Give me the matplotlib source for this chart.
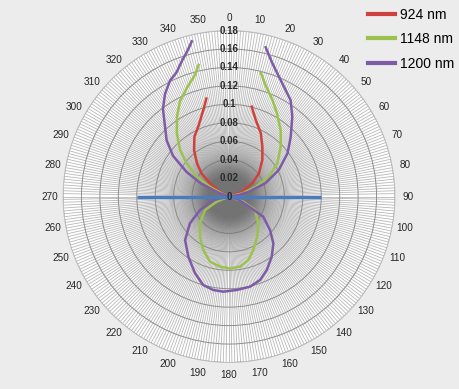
import numpy as np
import matplotlib
matplotlib.use("Agg")
import matplotlib.pyplot as plt
from matplotlib.colors import LinearSegmentedColormap

# angles in degrees (clockwise from north), radius in arbitrary units
r924_left_ang = [290, 298, 305, 310, 316, 323, 330, 337, 343.5, 347]
r924_left_val = [0, 0.011, 0.025, 0.039, 0.050, 0.063, 0.075, 0.084, 0.098, 0.109]
r924_right_ang = [14.2, 19.2, 26.6, 33.8, 42.4, 52.3, 60.5, 70, 80]
r924_right_val = [0.1005, 0.088, 0.077, 0.065, 0.0536, 0.041, 0.029, 0.015, 0]

r1148_left_ang = [286, 294, 297, 301.5, 308, 313.5, 320.5, 327, 332.7, 338.6, 344.4, 347]
r1148_left_val = [0, 0.009, 0.023, 0.041, 0.058, 0.073, 0.089, 0.1035, 0.116, 0.126, 0.137, 0.1465]
r1148_right_ang = [14.4, 18.2, 24.2, 30, 38, 46, 55.5, 63.7, 70, 76.5, 84]
r1148_right_val = [0.1386, 0.127, 0.115, 0.104, 0.091, 0.078, 0.0636, 0.048, 0.031, 0.015, 0]
r1148_low_ang = [100, 110, 117.4, 132.4, 144.9, 155.6, 163.1, 171.1, 179.2, 187.3,
                 196.2, 205.7, 215.8, 227.3, 240.6, 247, 258]
r1148_low_val = [0, 0.0165, 0.0318, 0.043, 0.0533, 0.0637, 0.072, 0.077, 0.078, 0.0767,
                 0.0736, 0.0644, 0.0537, 0.0428, 0.0299, 0.0145, 0]

r1200_left_ang = [282, 290, 295, 300, 306, 312, 318, 323, 328, 333, 337, 341, 344, 346.5]
r1200_left_val = [0, 0.012, 0.034, 0.053, 0.075, 0.091, 0.104, 0.119, 0.131, 0.141,
                  0.146, 0.156, 0.164, 0.173]
r1200_right_ang = [13.8, 18, 25, 32.6, 38.4, 46, 53.5, 62, 70, 76.5, 81, 86]
r1200_right_val = [0.1666, 0.152, 0.136, 0.124, 0.1105, 0.093, 0.079, 0.061, 0.042,
                   0.022, 0.011, 0]
r1200_low_ang = [100, 108, 115.6, 120.5, 129.3, 136.6, 144.6, 152.8, 159.6, 166.9, 175.3,
                 183.4, 189.5, 196.2, 203.9, 214, 225.3, 235.5, 245, 257.4, 265]
r1200_low_val = [0, 0.010, 0.0213, 0.043, 0.0575, 0.070, 0.080, 0.0896, 0.0966, 0.1004,
                 0.1017, 0.1034, 0.1028, 0.100, 0.091, 0.0788, 0.067, 0.0514, 0.0347,
                 0.0175, 0]

axis_ang = [270, 270, 90, 90]
axis_val = [0.1, 0, 0, 0.1]

rticks = [0, 0.02, 0.04, 0.06, 0.08, 0.1, 0.12, 0.14, 0.16, 0.18]
rtick_labels = ["0", "0.02", "0.04", "0.06", "0.08", "0.1", "0.12", "0.14", "0.16", "0.18"]
angle_ticks = list(range(0, 360, 10))

c924 = "#d0403c"
c1148 = "#9cc24e"
c1200 = "#7d5ba6"
cblue = "#4a7bbf"

plt.rcParams['font.family'] = ['Liberation Sans', 'DejaVu Sans']

fig = plt.figure(figsize=(4.6, 3.89), dpi=100, facecolor="#ececec")
ax = fig.add_axes([0.1370, 0.0681, 0.7217, 0.8535], projection="polar")
ax.set_facecolor("white")
ax.set_axisbelow(True)
ax.set_theta_zero_location("N")
ax.set_theta_direction(-1)
ax.set_ylim(0, 0.18)

ax.set_xticks(np.deg2rad(angle_ticks))
ax.set_xticklabels([str(a) for a in angle_ticks], fontsize=7.2, color="#262626")
ax.set_xticks(np.deg2rad(np.arange(0, 360, 1)), minor=True)
ax.tick_params(axis="x", which="both", pad=-1.3)
ax.xaxis.grid(True, which="both", color="#b8b8b8", linewidth=0.6)
ax.set_yticks(rticks[1:])
ax.set_yticklabels([])
ax.yaxis.grid(True, color="#8e8e8e", linewidth=0.7)
ax.spines["polar"].set_color("#c0c0c0")
ax.spines["polar"].set_linewidth(0.6)

# soft grey shading around the centre
shade = LinearSegmentedColormap.from_list(
    "shade", [(0.45, 0.45, 0.45, 0.0), (0.45, 0.45, 0.45, 0.5)])
tt, rr = np.meshgrid(np.linspace(0, 2 * np.pi, 181), np.linspace(0, 0.07, 60))
ax.pcolormesh(tt, rr, np.exp(-(rr / 0.028) ** 2), cmap=shade, vmin=0, vmax=1,
              shading="gouraud", zorder=1)

lw = 1.8
ax.plot(np.deg2rad(r924_left_ang), r924_left_val, color=c924, lw=lw, label="924 nm")
ax.plot(np.deg2rad(r924_right_ang), r924_right_val, color=c924, lw=lw)
ax.plot(np.deg2rad(r1148_left_ang), r1148_left_val, color=c1148, lw=lw, label="1148 nm")
ax.plot(np.deg2rad(r1148_right_ang), r1148_right_val, color=c1148, lw=lw)
ax.plot(np.deg2rad(r1148_low_ang), r1148_low_val, color=c1148, lw=lw)
ax.plot(np.deg2rad(r1200_left_ang), r1200_left_val, color=c1200, lw=lw, label="1200 nm")
ax.plot(np.deg2rad(r1200_right_ang), r1200_right_val, color=c1200, lw=lw)
ax.plot(np.deg2rad(r1200_low_ang), r1200_low_val, color=c1200, lw=lw)
ax.plot(np.deg2rad(axis_ang), axis_val, color=cblue, lw=2.4, solid_capstyle="butt")

for v, lab in zip(rticks, rtick_labels):
    ax.text(0, v, lab, ha="center", va="center", fontsize=7, fontweight="bold",
            color="#2a2a2a", zorder=5)

leg = fig.legend(loc="upper left", bbox_to_anchor=(0.787, 0.995), frameon=False,
                 prop={"size": 10}, handlelength=1.95, handletextpad=0.36,
                 labelspacing=0.77, borderaxespad=0.0)
for line in leg.get_lines():
    line.set_linewidth(3)

fig.savefig("out.png", dpi=100, facecolor=fig.get_facecolor())
